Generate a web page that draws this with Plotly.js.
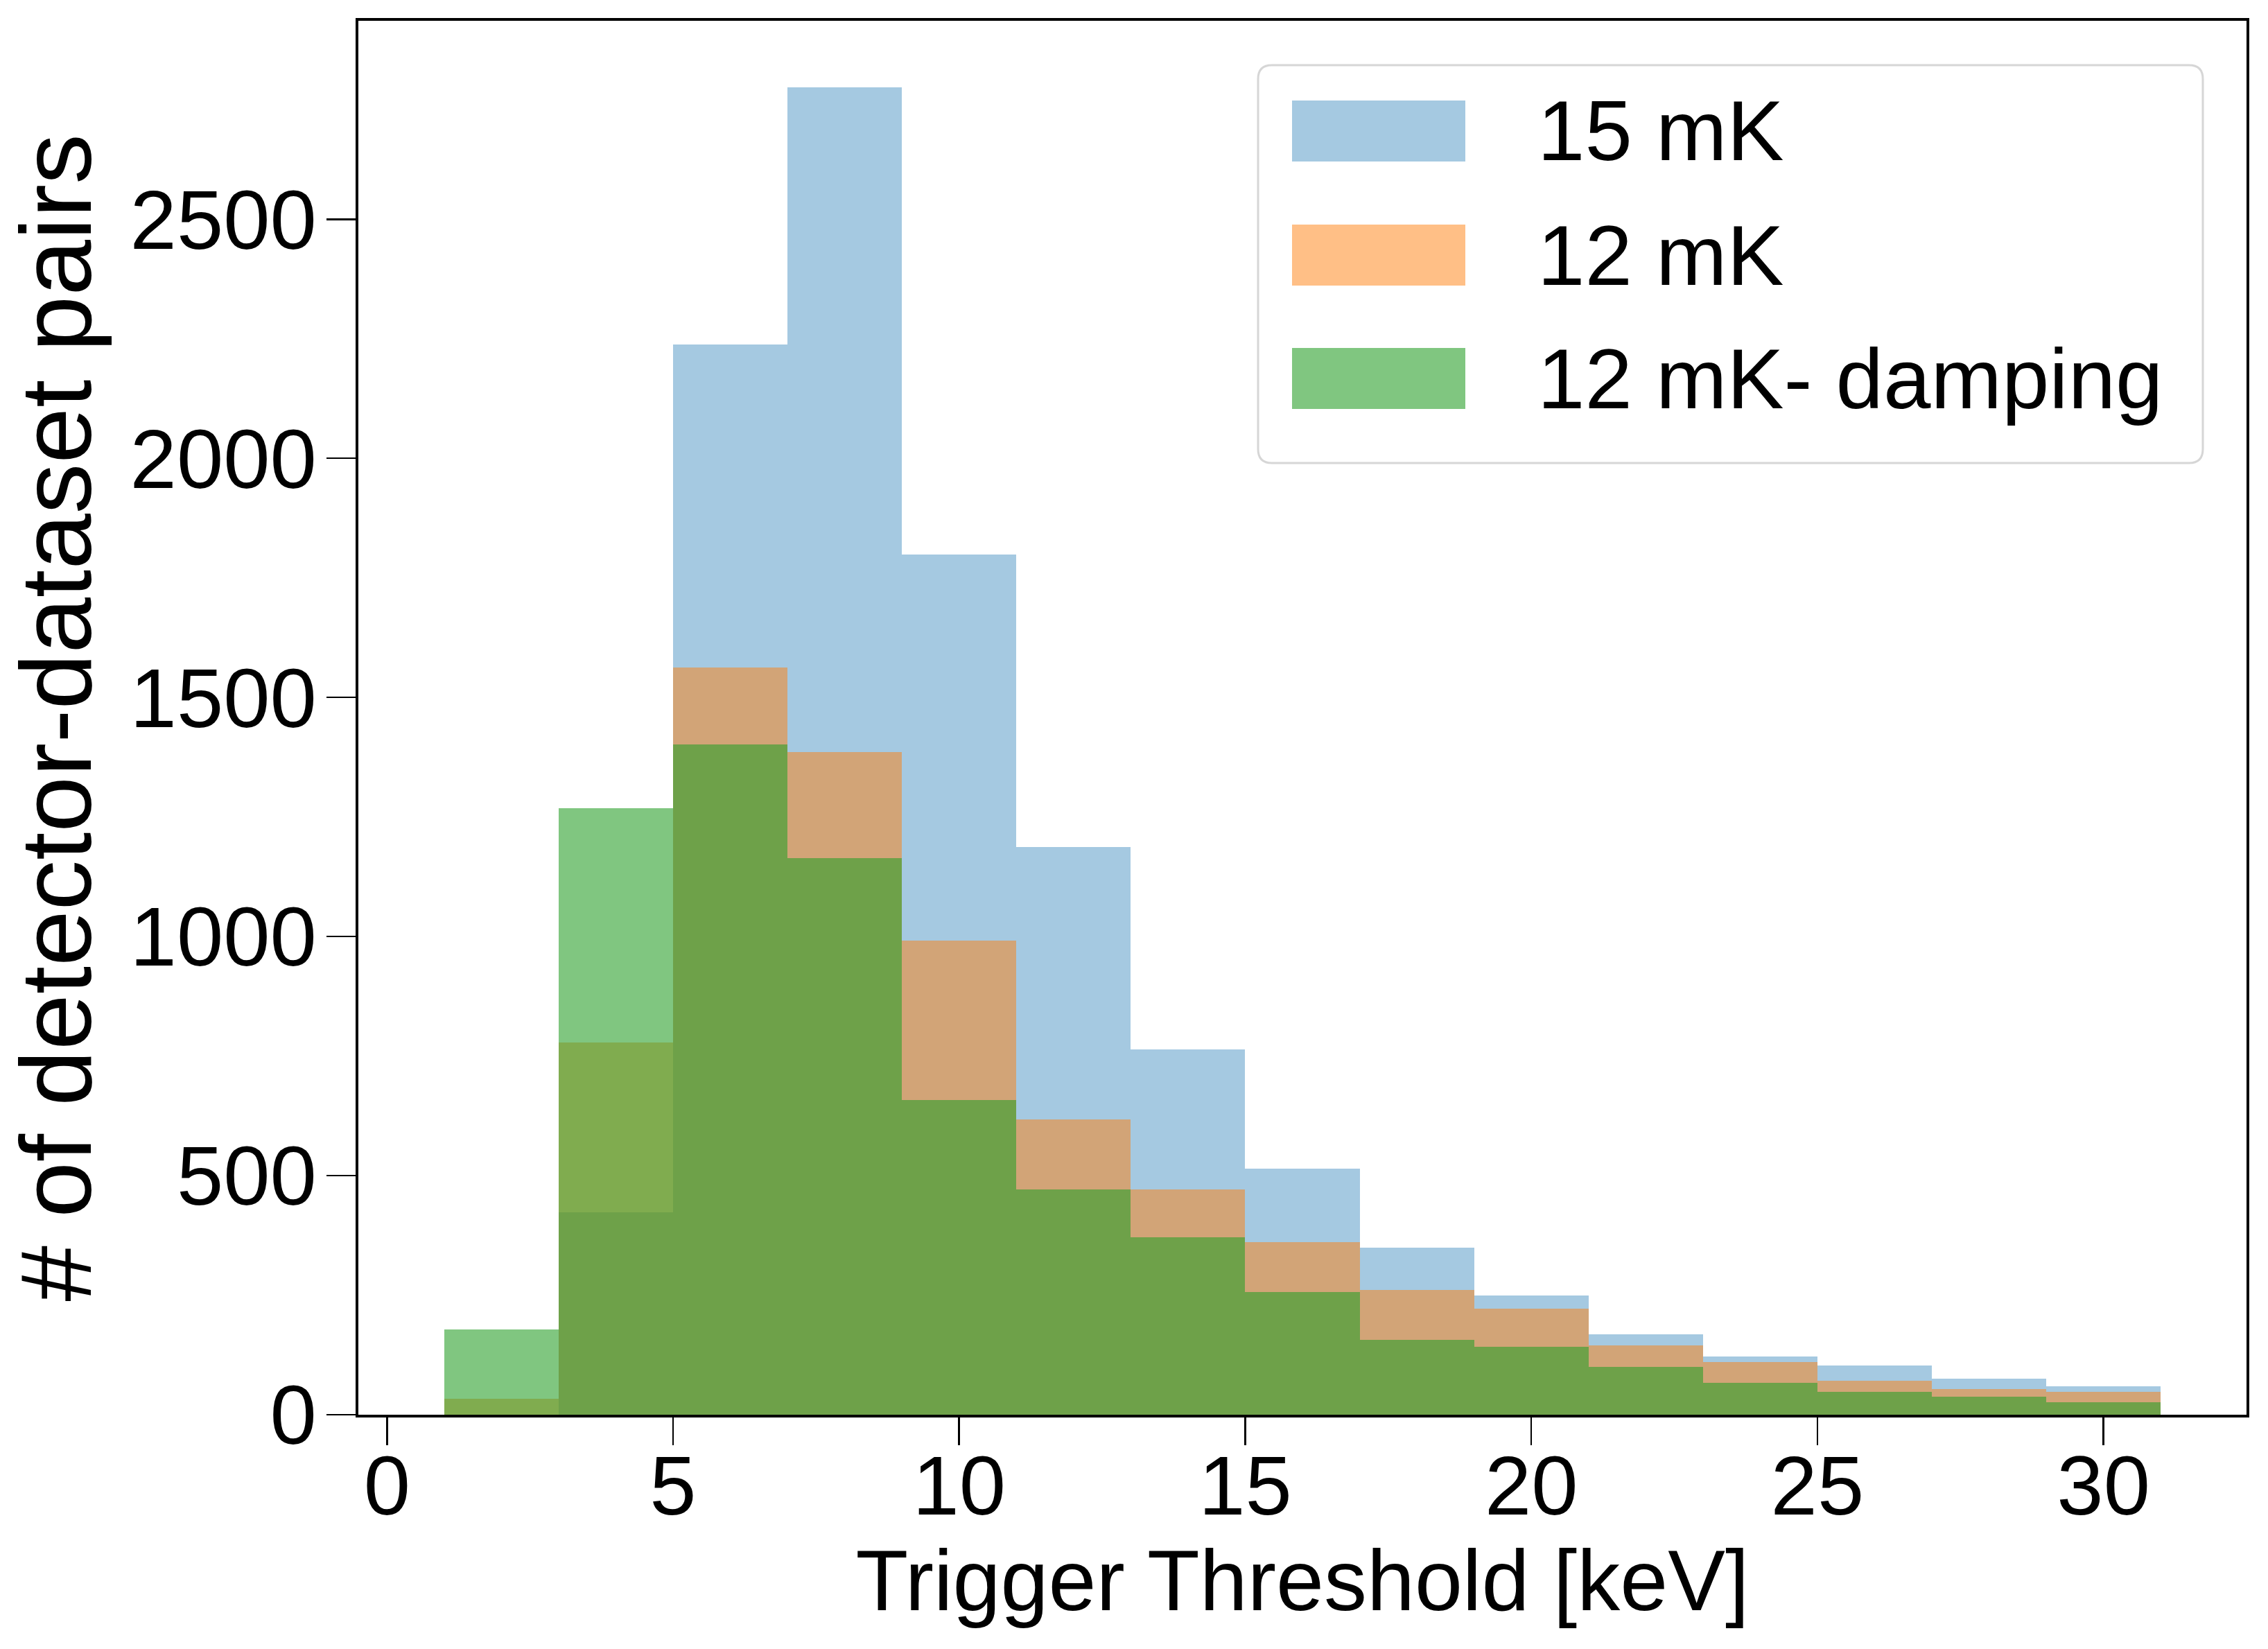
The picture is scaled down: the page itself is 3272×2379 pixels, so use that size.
<!DOCTYPE html>
<html>
<head>
<meta charset="utf-8">
<script src="https://cdn.plot.ly/plotly-3.0.1.min.js"></script>
<style>
html, body { margin: 0; padding: 0; background: #ffffff; }
#chart { width: 3272px; height: 2379px; }
</style>
</head>
<body>
<div id="chart"></div>
<script>
// ---- Data (histogram counts, bins of width 2 keV from 1 to 31) ----
const binCenters = [2, 4, 6, 8, 10, 12, 14, 16, 18, 20, 22, 24, 26, 28, 30];
const binWidth = 2;
const counts15mK = [0, 423, 2238, 2776, 1799, 1187, 764, 515, 350, 249, 168, 122, 103, 75, 60];
const counts12mK = [33, 779, 1562, 1386, 992, 618, 471, 361, 261, 222, 145, 110, 71, 54, 48];
const counts12mKDamping = [178, 1268, 1401, 1164, 658, 471, 371, 257, 156, 142, 100, 67, 48, 38, 26];
const seriesNames = ["15 mK", "12 mK", "12 mK- damping"];
const xTickVals = [0, 5, 10, 15, 20, 25, 30];
const yTickVals = [0, 500, 1000, 1500, 2000, 2500];

// ---- Styling ----
const colors = ["rgba(31,119,180,0.4)", "rgba(255,127,14,0.5)", "rgba(44,160,44,0.6)"];
const FONT = "Liberation Sans, Arial, Helvetica, sans-serif";
const W = 3272, H = 2379;
const M = { l: 517, r: 31, t: 30, b: 338 };
const PW = W - M.l - M.r, PH = H - M.t - M.b;
const px2x = (px) => (px - M.l) / PW;
const py2y = (py) => (H - M.b - py) / PH;

const allSeries = [counts15mK, counts12mK, counts12mKDamping];
const traces = allSeries.map((vals, i) => ({
  type: "bar",
  x: binCenters,
  y: vals,
  width: binWidth,
  name: seriesNames[i],
  marker: { color: colors[i], line: { width: 0 } },
  showlegend: false,
  hoverinfo: "x+y+name"
}));

// ---- Custom legend (matplotlib style, large patches) ----
const shapes = [];
const annotations = [];
{
  const fx0 = 1815, fx1 = 3178, fy0 = 94, fy1 = 668, r = 20;
  const X = px2x, Y = py2y;
  const path =
    `M ${X(fx0 + r)},${Y(fy0)} L ${X(fx1 - r)},${Y(fy0)} ` +
    `Q ${X(fx1)},${Y(fy0)} ${X(fx1)},${Y(fy0 + r)} ` +
    `L ${X(fx1)},${Y(fy1 - r)} Q ${X(fx1)},${Y(fy1)} ${X(fx1 - r)},${Y(fy1)} ` +
    `L ${X(fx0 + r)},${Y(fy1)} Q ${X(fx0)},${Y(fy1)} ${X(fx0)},${Y(fy1 - r)} ` +
    `L ${X(fx0)},${Y(fy0 + r)} Q ${X(fx0)},${Y(fy0)} ${X(fx0 + r)},${Y(fy0)} Z`;
  shapes.push({
    type: "path", xref: "paper", yref: "paper", path: path,
    fillcolor: "rgba(255,255,255,0.8)", line: { color: "#d6d6d6", width: 3 }, layer: "above"
  });
  const rowTops = [145, 324, 502];
  const patchH = 88;
  rowTops.forEach((top, i) => {
    shapes.push({
      type: "rect", xref: "paper", yref: "paper",
      x0: X(1864), x1: X(2114), y0: Y(top + patchH), y1: Y(top),
      fillcolor: colors[i], line: { width: 0 }, layer: "above"
    });
    annotations.push({
      xref: "paper", yref: "paper", x: X(2216), y: Y(top + patchH / 2),
      xanchor: "left", yanchor: "middle", showarrow: false,
      text: seriesNames[i], font: { family: FONT, size: 123, color: "#000" }
    });
  });
}

const layout = {
  width: W, height: H,
  margin: M,
  paper_bgcolor: "#ffffff",
  plot_bgcolor: "#ffffff",
  barmode: "overlay",
  bargap: 0,
  font: { family: FONT, color: "#000" },
  xaxis: {
    range: [-0.5, 32.5],
    tickvals: xTickVals,
    ticks: "outside", ticklen: 40, tickwidth: 2.5, tickcolor: "#000",
    ticklabelstandoff: -45,
    tickfont: { family: FONT, size: 121, color: "#000" },
    showline: true, mirror: true, linewidth: 4, linecolor: "#000",
    showgrid: false, zeroline: false,
    title: { text: "Trigger Threshold [keV]", font: { family: FONT, size: 124, color: "#000" }, standoff: 25 }
  },
  yaxis: {
    range: [0, 2915],
    tickvals: yTickVals,
    ticks: "outside", ticklen: 42, tickwidth: 2.5, tickcolor: "#000",
    ticklabelstandoff: -10,
    tickfont: { family: FONT, size: 121, color: "#000" },
    showline: true, mirror: true, linewidth: 4, linecolor: "#000",
    showgrid: false, zeroline: false,
    title: { text: "# of detector-dataset pairs", font: { family: FONT, size: 145, color: "#000" }, standoff: 15 }
  },
  shapes: shapes,
  annotations: annotations
};

Plotly.newPlot("chart", traces, layout, { staticPlot: true, displayModeBar: false });
</script>
</body>
</html>
